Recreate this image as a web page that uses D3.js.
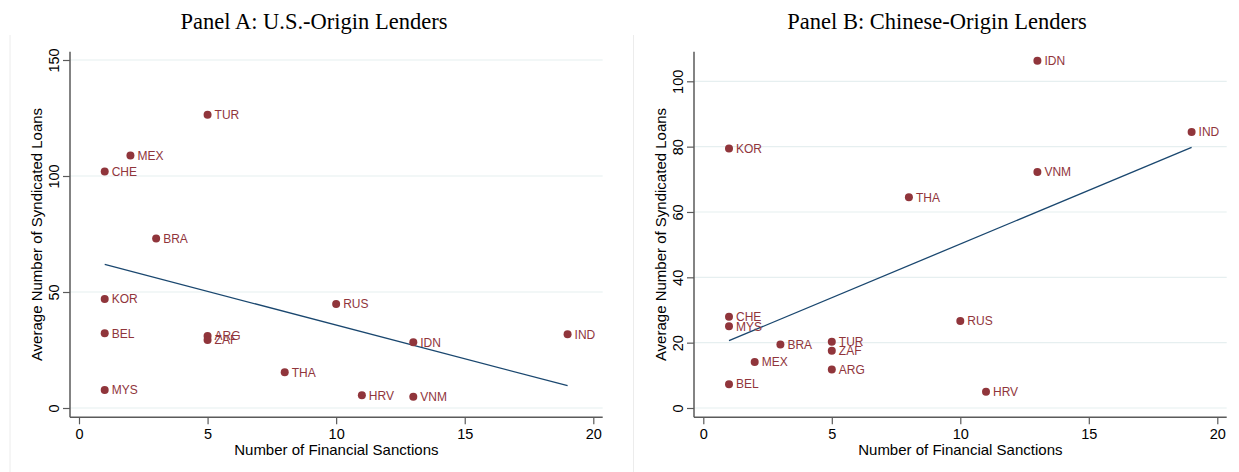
<!DOCTYPE html>
<html>
<head>
<meta charset="utf-8">
<script src="https://cdn.jsdelivr.net/npm/d3@7"></script>
<style>
  body { margin: 0; background: #fff; }
  svg { display: block; }
</style>
</head>
<body>
<div id="chart"></div>
<script>
// Panel A: U.S.-origin lenders
const countriesA = ["TUR", "MEX", "CHE", "BRA", "KOR", "BEL", "ARG", "ZAF", "MYS", "THA", "RUS", "IDN", "IND", "HRV", "VNM"];
const sanctionsA = [5, 2, 1, 3, 1, 1, 5, 5, 1, 8, 10, 13, 19, 11, 13];
const loansA     = [126.4, 108.8, 101.9, 73.1, 47.0, 32.2, 31.0, 29.3, 7.8, 15.4, 44.8, 28.3, 31.8, 5.5, 4.9];
const fitXA = [1, 19];
const fitYA = [61.9, 9.6];

// Panel B: Chinese-origin lenders
const countriesB = ["IDN", "IND", "VNM", "KOR", "THA", "CHE", "MYS", "BRA", "MEX", "BEL", "TUR", "ZAF", "ARG", "RUS", "HRV"];
const sanctionsB = [13, 19, 13, 1, 8, 1, 1, 3, 2, 1, 5, 5, 5, 10, 11];
const loansB     = [106.3, 84.5, 72.2, 79.4, 64.5, 27.9, 25.0, 19.4, 14.1, 7.3, 20.3, 17.5, 11.8, 26.6, 5.0];
const fitXB = [1, 19];
const fitYB = [20.6, 79.8];

const xTicks  = [0, 5, 10, 15, 20];
const yTicksA = [0, 50, 100, 150];
const yTicksB = [0, 20, 40, 60, 80, 100];

const width = 1239, height = 472;
const markerColor = "#90353b";
const lineColor = "#1a476f";
const gridColor = "#e6eff0";
const axisColor = "#5a5a5a";
const sans = "'Liberation Sans', Arial, sans-serif";

const svg = d3.select("#chart").append("svg")
  .attr("width", width)
  .attr("height", height);

function drawPanel(opts) {
  const g = svg.append("g");
  const { left, right, top, bottom, x0, x20, yTop, yTopVal } = opts;

  // scales: tick positions, axis lines run past them
  const x = d3.scaleLinear().domain([0, 20]).range([x0, x20]);
  const y = d3.scaleLinear().domain([0, yTopVal]).range([408, yTop]);

  // faint graph-region border
  g.append("line")
    .attr("x1", opts.border).attr("x2", opts.border)
    .attr("y1", 35).attr("y2", height)
    .attr("stroke", "#ececec").attr("stroke-width", 1);

  // title
  g.append("text")
    .attr("x", opts.titleX)
    .attr("y", 29)
    .attr("text-anchor", "middle")
    .style("font-family", "'Liberation Serif', 'Times New Roman', serif")
    .style("font-size", "22.5px")
    .attr("fill", "#000")
    .text(opts.title);

  // gridlines
  g.append("g").selectAll("line")
    .data(opts.yTicks)
    .join("line")
      .attr("x1", left).attr("x2", right)
      .attr("y1", d => y(d)).attr("y2", d => y(d))
      .attr("stroke", gridColor).attr("stroke-width", 1.2);

  // y axis
  const yAxis = g.append("g")
    .attr("transform", `translate(${left},0)`)
    .call(d3.axisLeft(y).tickValues(opts.yTicks).tickSize(7).tickPadding(4));
  yAxis.select(".domain").remove();
  yAxis.selectAll(".tick line").attr("stroke", axisColor).attr("stroke-width", 1.2);
  yAxis.selectAll(".tick text")
    .attr("x", 0).attr("y", -11.5).attr("dy", 0)
    .attr("text-anchor", "middle")
    .attr("transform", "rotate(-90)")
    .style("font-family", sans).style("font-size", "14.5px").attr("fill", "#000");

  // x axis
  const xAxis = g.append("g")
    .attr("transform", `translate(0,${bottom})`)
    .call(d3.axisBottom(x).tickValues(xTicks).tickSize(7).tickPadding(4));
  xAxis.select(".domain").remove();
  xAxis.selectAll(".tick line").attr("stroke", axisColor).attr("stroke-width", 1.2);
  xAxis.selectAll(".tick text")
    .style("font-family", sans).style("font-size", "14.5px").attr("fill", "#000");

  // axis lines
  g.append("line")
    .attr("x1", left).attr("x2", left).attr("y1", top).attr("y2", bottom)
    .attr("stroke", axisColor).attr("stroke-width", 1.5);
  g.append("line")
    .attr("x1", left).attr("x2", right).attr("y1", bottom).attr("y2", bottom)
    .attr("stroke", axisColor).attr("stroke-width", 1.5);

  // axis titles
  g.append("text")
    .attr("x", (left + right) / 2)
    .attr("y", 454.5)
    .attr("text-anchor", "middle")
    .style("font-family", sans).style("font-size", "15px")
    .text("Number of Financial Sanctions");
  g.append("text")
    .attr("transform", `translate(${left - 28.5},${(top + bottom) / 2}) rotate(-90)`)
    .attr("text-anchor", "middle")
    .style("font-family", sans).style("font-size", "15px")
    .text("Average Number of Syndicated Loans");

  // fitted line
  g.append("line")
    .attr("x1", x(opts.fitX[0])).attr("y1", y(opts.fitY[0]))
    .attr("x2", x(opts.fitX[1])).attr("y2", y(opts.fitY[1]))
    .attr("stroke", lineColor).attr("stroke-width", 1.3);

  // points + labels
  const pts = opts.countries.map((c, i) => ({ c, sx: opts.sanctions[i], ly: opts.loans[i] }));
  const pg = g.append("g");
  pg.selectAll("circle")
    .data(pts)
    .join("circle")
      .attr("cx", d => x(d.sx))
      .attr("cy", d => y(d.ly))
      .attr("r", 4)
      .attr("fill", markerColor);
  pg.selectAll("text")
    .data(pts)
    .join("text")
      .attr("x", d => x(d.sx) + 7)
      .attr("y", d => y(d.ly))
      .attr("dy", "0.36em")
      .style("font-family", sans).style("font-size", "12px")
      .attr("fill", markerColor)
      .text(d => d.c);
}

drawPanel({
  title: "Panel A: U.S.-Origin Lenders", titleX: 314, border: 10,
  left: 70, right: 602.7, top: 51.7, bottom: 417.3,
  x0: 79, x20: 593.3, yTop: 60, yTopVal: 150, yTicks: yTicksA,
  countries: countriesA, sanctions: sanctionsA, loans: loansA,
  fitX: fitXA, fitY: fitYA
});

drawPanel({
  title: "Panel B: Chinese-Origin Lenders", titleX: 937, border: 633.5,
  left: 694, right: 1226.7, top: 51.7, bottom: 417.3,
  x0: 703.3, x20: 1217.3, yTop: 81.3, yTopVal: 100, yTicks: yTicksB,
  countries: countriesB, sanctions: sanctionsB, loans: loansB,
  fitX: fitXB, fitY: fitYB
});
</script>
</body>
</html>
